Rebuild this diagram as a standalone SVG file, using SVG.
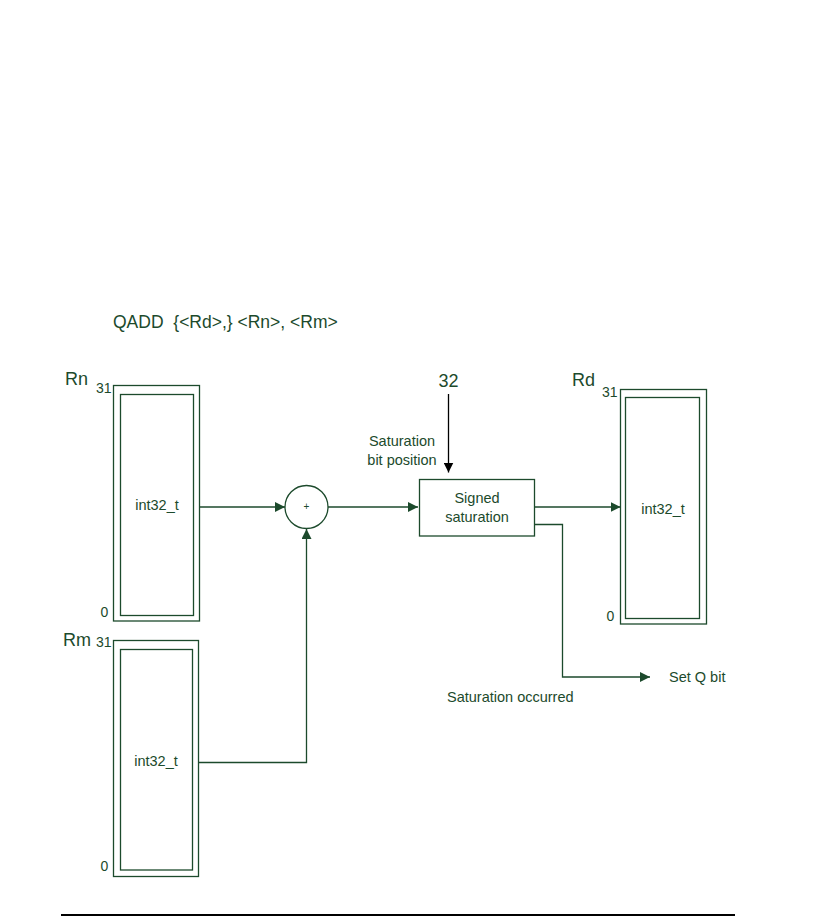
<svg xmlns="http://www.w3.org/2000/svg" width="834" height="920" viewBox="0 0 834 920">
<style>
text{font-family:"Liberation Sans",Arial,sans-serif;fill:#1c4a2c}
.reg{fill:none;stroke:#1c4a2c;stroke-width:1.3}
.ln{fill:none;stroke:#1c4a2c;stroke-width:1.3}
.lbl{font-size:18px}
.bit{font-size:14px}
.t{font-size:14.5px;text-anchor:middle}
</style>
<defs>
<marker id="ah" viewBox="0 0 10 10" refX="10" refY="5" markerWidth="10" markerHeight="10" markerUnits="userSpaceOnUse" orient="auto">
<path d="M0,0 L10,5 L0,10 z" fill="#1c4a2c"/>
</marker>
<marker id="ahk" viewBox="0 0 10 10" refX="10" refY="5" markerWidth="10" markerHeight="10" markerUnits="userSpaceOnUse" orient="auto">
<path d="M0,0 L10,5 L0,10 z" fill="#000"/>
</marker>
</defs>
<rect width="834" height="920" fill="#fff"/>
<text x="113" y="328" style="font-size:17.5px;white-space:pre" xml:space="preserve">QADD  {&lt;Rd&gt;,} &lt;Rn&gt;, &lt;Rm&gt;</text>
<g id="rn">
<rect class="reg" x="113.5" y="385.5" width="86" height="235.5"/>
<rect class="reg" x="120.5" y="394.5" width="73" height="221"/>
<text class="lbl" x="65" y="385">Rn</text>
<text class="bit" x="96" y="393">31</text>
<text class="bit" x="100.5" y="617">0</text>
<text class="t" x="157" y="510">int32_t</text>
</g>
<g id="rm">
<rect class="reg" x="113.5" y="640.5" width="85" height="236"/>
<rect class="reg" x="120.5" y="649.5" width="72" height="220.5"/>
<text class="lbl" x="63" y="646">Rm</text>
<text class="bit" x="96" y="647">31</text>
<text class="bit" x="100.5" y="871">0</text>
<text class="t" x="156" y="766">int32_t</text>
</g>
<g id="adder">
<circle class="ln" cx="306.5" cy="507" r="21.5"/>
<text x="306.5" y="510" style="font-size:10px;text-anchor:middle">+</text>
</g>
<g id="sat">
<rect class="reg" x="419.5" y="479.5" width="115" height="56.5"/>
<text class="t" x="477" y="503">Signed</text>
<text class="t" x="477" y="522">saturation</text>
</g>
<g id="rd">
<rect class="reg" x="620.5" y="389.5" width="86" height="234.5"/>
<text class="lbl" x="572" y="386">Rd</text>
<rect class="reg" x="625.5" y="397.5" width="74" height="221"/>
<text class="bit" x="602" y="397">31</text>
<text class="bit" x="606.5" y="621">0</text>
<text class="t" x="663" y="514">int32_t</text>
</g>
<g id="labels">
<text x="448.5" y="387" style="font-size:18px;text-anchor:middle">32</text>
<text class="t" x="402" y="446">Saturation</text>
<text class="t" x="402" y="465">bit position</text>
<text x="669" y="682" style="font-size:14.5px">Set Q bit</text>
<text x="447" y="702" style="font-size:14.5px">Saturation occurred</text>
</g>
<g id="connectors">
<path class="ln" d="M199,507 H285" marker-end="url(#ah)"/>
<path class="ln" d="M198,762.5 H306.5 V529" marker-end="url(#ah)"/>
<path class="ln" d="M328,507 H418" marker-end="url(#ah)"/>
<path d="M448.5,394 V472.5" stroke="#000" stroke-width="1.3" fill="none" marker-end="url(#ahk)"/>
<path class="ln" d="M534.5,507 H620.5" marker-end="url(#ah)"/>
<path class="ln" d="M534.5,524.5 H562.5 V677 H650" marker-end="url(#ah)"/>
</g>
<line x1="61" y1="915" x2="735" y2="915" stroke="#000" stroke-width="2"/>
</svg>
